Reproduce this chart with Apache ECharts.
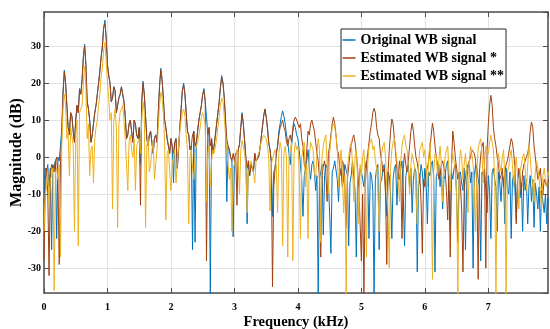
<!DOCTYPE html>
<html>
<head>
<meta charset="utf-8">
<title>WB signal spectrum</title>
<script src="https://cdn.jsdelivr.net/npm/echarts@6.0.0/dist/echarts.min.js"></script>
<style>
  html, body { margin: 0; padding: 0; background: #fff; }
  #chart { width: 550px; height: 329px; }
</style>
</head>
<body>
<div id="chart"></div>
<script>
// Magnitude spectra in dB, one value every 0.02 kHz starting at 0 kHz
// (one row per kHz)
const originalWB = [
  -12, -3, -4, -2, -8, -3, -25, -2, -3, -1, -22, 0, -1, 3, 8, 18, 23.5, 20, 14, 8, 6, 12, 11, 7, 4,
  10, 14, 12, 18.5, 17, 21, 27, 30.5, 25, 15, 13, 10, 4, 6, 9, 12, 14, 17, 20, 23.5, 27, 30, 35, 37, 32,
  25, 22, 20, 15, 16, 19, 18, 12, 14, 16, 17, 19, 19.5, 15, 11, 5, 6, 9, 10, 7, 4, 10, 9, 6, 5,
  8, -2, 15, 20.5, 17, 11, 5, 3, 6, 7, 4, 1, 5, 6, 4, 12, 19, 24, 21, 16, 10, 8, 5, 3, 1,
  5, 3, -7, 4, 5, -3, 2, 8, 13, 18, 20, 17, 12, 7, 6, 2, 3, -25, 7, -23, 4, 7, 10, 12, 14,
  17, 18.5, 15, 11, 6, 8, -37, 5, 1, 3, 6, 9, 12, 15, 19, 22, 20, 16, 10, -12, 3, 2, 0, -1, -21.5,
  -1, 1, 1, 2, 3.5, 8, 12, 9, 4.5, 0, -18, -1, -5, -2, -2, -4, 1, -1, -1, 0, 2, 5, 8, 11, 13,
  11, 8, 4, 2, -1, -16, -4, -3, 1, 3, 7, 9, 11, 12.5, 11, 9, 6, 4, 1, -2, 3, 7, 9, 8, 6,
  5, 2, -2, -6, -16, -5, -3, -1, 2, -3, -6, -2, -1, -4, -9, -5, -37, -6, -4, -2, -21, -5, -2, -3, -7,
  -15, -26, -4, -3, -1, -1, -6, -12, -3, -4, -8, -6, -2, -2, -5, -24, -7, -5, -1, -1, -9, -27, -6, -8, -3,
  -4, -6, -8, -3, -1, -5, -22, -4, -5, -9, -37, -6, -3, -2, -25, -7, -6, -3, -2, -8, -16, -4, -5, -10, -22,
  -6, -3, -2, -13, -5, -6, -3, -1, -10, -24, -5, -5, -2, -8, -3, -15, -6, -3, -4, -31, -8, -6, -2, -4, -9,
  -3, -7, -18, -4, -5, -2, -1, -6, -31, -5, -4, -2, -8, -3, -14, -6, -5, -2, -1, -9, -20, -4, -6, -3, -2,
  -11, -23, -5, -4, -7, -9, -3, -25, -6, -3, -2, -7, -4, -30, -5, -2, -3, -6, -8, -28, -4, -5, -3, -9, -15,
  -5, -9, -22, -4, -3, -6, -8, -20, -4, -7, -12, -5, -6, -18, -3, -8, -10, -4, -22, -6, -5, -9, -17, -6, -4,
  -11, -7, -20, -5, -9, -6, -18, -8, -5, -12, -6, -19, -7, -10, -14, -8, -20, -9, -12, -15, -10, -18, -11, -13, -20
];

const estimatedWB1 = [
  -28, -6, -3, -10, -32, -5, -2, -3, -4, -1, 0, -6, -29, -1, 6, 17, 23, 20, 14, 8, 6, 12, 11, 7, 4,
  10, 14, 12, 18, 17, 21, 27, 30, 25, 15, 13, 10, 4, 6, 9, 12, 14, 17, 20, 23, 27, 30, 35, 36, 32,
  25, 22, 20, 15, 16, 19, 18, 12, 14, 16, 17, 19, 19, 15, 11, 5, 6, 9, 10, 7, 4, 10, 9, 6, 5,
  8, -13, 15, 20, 17, 11, 5, 3, 6, 7, 4, 1, 5, 6, 4, 12, 19, 23.5, 21, 16, 10, 8, 5, 3, 1,
  5, 3, 1, 4, 5, -3, 2, 8, 13, 18, 19.5, 17, 12, 7, 6, 2, 3, 6, 7, 3, 4, 7, 10, 12, 14,
  17, 18, 15, -28, 6, 8, 3, 5, 1, 3, 6, 9, 12, 15, 19, 21.5, 20, 16, 10, 5, 3, 2, 0, -1, 1,
  -1, 1, -13, 2, 3.5, 8, 11.5, 9, 4.5, 0, -3, -1, -5, -2, -2, -4, 1, -1, -1, 0, 2, 5, 8, 11, 13,
  11, 8, 4, 2, -1, -35, -8, -3, 1, 3, 6, 8, 9, 10, 8, 7, 4, 3, 5, 6, 4, 8, 10, 10.8, 10,
  10, 8, 9, 5, 3, -2, -3, 2, 7, 6, 9, 10, 10, 7, 4, 1, -1, -6, -27, -5, -2.5, -1, -4, -12, 1,
  3, 6, 9, 10.8, 9, 6, 2, 1, -3, -5, -1, -2, -8, -19, -6, -2.6, 1, 3, 5, 6, 4, 1, -3, -8, -18,
  -28, -10, -37, -8, -2, 1, 4, 7, 9, 12, 13.2, 12, 8, 6, 5, 1, -1, -4, -3, -10, -29, -4, 2, 7, 10.3,
  9, 5, 1, -3, -6, -1, -5, -22, -3, 1, -2, -4, -1, 3, 7, 9.2, 7, 3, 0, -1.5, -4, -5, -12, -26, -6,
  -8, -4, -3, -1, 2, 6, 9.2, 7, 3, 0, -2, -6, -5, -2, -1, -3, -4, -9, -17, -5, -27, -2, 7, 4, 0,
  -3, -6, -4, -8, -14, -31, -9, -5, -3, -2, -1, 0, 2, 2.5, 1, -1, -8, -33, -4, 0.5, 3, 4, -3, -30, 2,
  9, 14, 16.7, 14, 8, 5, 3, 0, -2, -6, -5, -3, -8, -4, -2, -1, 1, 3, 5, 4, 1, -3, -18, -6, -3,
  -5, -10, -4, -2, -1, 0, 1, 3, 7, 9.5, 8, 3, 0, -3, -6, -5, -3, -8, -10, -6, -7, -8, -6, -7, -8
];

const estimatedWB2 = [
  -20, -10, -8, -4, -13, -6, -5, -3, -36, -4, -3, -6, -2, -27, 3, 13, 17, 14, 5, 7, -5, 8, 8, 3, -20,
  6, 10, -24, 12, 13, 14, 20, 24.5, 19, 5, 9, -5, 2, 3, -7, 5, 8, 10, 14, 17, 22, 24, 29, 31, 26,
  20, 16, 10, 12, -14, 10, 13, 8, -19, 9, 12, 13, 14, 10, 5, -2, -9, 4, 6, 2, 0, 5, -9, 3, 3,
  5, 1, 10, 15, 12, -19, 3, 5, -4, -2, 2, 4, -6, -6, 2, 8, 14, 17.5, 16, 12, 4, -17, 1, 2, -4,
  -9, -2, 0, 2, -7, -1, 3, 7, 10, 12, 13, 11, 6, 2, -18, 0, 2, -3, -6, 1, 3, 4, 6, 8, 11,
  12, 12.5, 9, -12, 1, 3, -8, -1, 2, 1, 3, 5, 8, 11, 14, 16, 15, 11, 6, 2, -2, -6, -3, -20, -3,
  -2, 0, 2, -1, -10, 2, 4.5, 3, 1, -2, -15, -4, -3, -1, -1, -4, -7, -1, 0, 1, 2, 4, 5, 6, 6.5,
  5, 3, 0, -14.5, -2, -2, 1, 2, -3, -15, 1, 4, 2, -24, 1, 3, 0, -27, 0, 2, 4, -28, 1, 4, 2,
  3, -3, -22, 0, 2, 4, -8, -2, -22, 0, 4, 3, 2, -4, -6, 1, 5, 2, -23, 0, 3, 5, 6, -2, -10,
  1, 5, 8, 9, 8, 6, 2, -8, -3, 2, -4, -15, -5, -37, -3, 0, 3, 4, -2, -12, 0, 2, -5, -18, -2,
  -5, 0, 2, -6, -27, -2, 3, 4, 5, 2, 3, -1, -3, -8, -20, -4, 1, 3, 4, 0, -8, -15, -30, -3, 2,
  4, 5, 2, -1, -6, -12, -1, 3, 5, 6, 3, 2, -4, -10, -2, 1, -1, -3, -9, -18, -3, 2, 3, 4, 0,
  2, -2, -8, 0, 4, -6, -33, -4, 1, 0, -5, -1, 3, -2, -12, -3, 0, 2, 3, -4, -9, -2, 1, -1, -4,
  -10, -37, -3, 2, 0, -6, -2, 1, -4, -15, -1, 3, 1, -2, -8, -20, -3, 2, 4, 5, 1, -7, -2, 3, 2,
  1, 4, 6, 4, 2, -5, -37, -3, 1, -2, -4, 0, 2, -6, -37, -4, -3, 0, 2, -2, -8, -3, 0, -5, -14,
  -4, -2, 0, 1, -3, -9, -2, 3, 0, -5, -8, -12, -4, -1, -3, -6, -9, -14, -5, -3, -6, -8, -4, -5, -7
];

const freqStep = 0.02; // kHz between samples
const freq = originalWB.map((_, i) => +(i * freqStep).toFixed(2));

const seriesNames = ['Original WB signal', 'Estimated WB signal *', 'Estimated WB signal **'];
const seriesData = [originalWB, estimatedWB1, estimatedWB2];
const seriesColors = ['#0072bd', '#a3410f', '#edb120'];

const serif = '"Liberation Serif", "DejaVu Serif", serif';
const axisColor = '#4d4d4d';
const gridColor = '#e3e3e3';

const xRange = { min: 0, max: 7.94 };
const yRange = { min: -36.7, max: 39.2 };

const chart = echarts.init(document.getElementById('chart'));

const labelFont = {
  fontFamily: serif,
  fontWeight: 'bold',
  fontSize: 10,
  color: '#000',
};

const nameFont = (size) => ({
  fontFamily: serif,
  fontWeight: 'bold',
  fontSize: size,
  color: '#000',
});

const boxLine = { show: true, onZero: false, lineStyle: { color: axisColor, width: 1.5 } };
const innerTick = { show: true, inside: true, length: 5, lineStyle: { color: axisColor, width: 1 } };

const option = {
  animation: false,
  // fixed plot box; v6 would otherwise shrink it to fit the axis names
  grid: { left: 44, right: 2, top: 12, bottom: 36, outerBoundsMode: 'none' },
  legend: {
    orient: 'vertical',
    left: 341,
    top: 29,
    data: seriesNames,
    icon: 'rect',
    itemWidth: 13,
    itemHeight: 1.5,
    itemGap: 4,
    padding: [4, 2, 5, 1.5],
    backgroundColor: '#fff',
    borderColor: '#262626',
    borderWidth: 1,
    textStyle: {
      fontFamily: serif,
      fontWeight: 'bold',
      fontSize: 14,
      lineHeight: 14,
      color: '#000',
    },
  },
  xAxis: [
    {
      type: 'value',
      ...xRange,
      splitNumber: 8,
      name: 'Frequency (kHz)',
      nameLocation: 'middle',
      nameGap: 22,
      nameMoveOverlap: false,
      nameTextStyle: nameFont(14.5),
      axisLine: boxLine,
      axisTick: innerTick,
      axisLabel: { ...labelFont, margin: 9, showMaxLabel: false },
      splitLine: { show: true, lineStyle: { color: gridColor, width: 1 } },
    },
    {
      // top edge of the box, ticks only
      type: 'value',
      position: 'top',
      ...xRange,
      splitNumber: 8,
      axisLine: boxLine,
      axisTick: innerTick,
      axisLabel: { show: false },
      splitLine: { show: false },
    },
  ],
  yAxis: [
    {
      type: 'value',
      ...yRange,
      splitNumber: 8,
      name: 'Magnitude (dB)',
      nameLocation: 'middle',
      nameGap: 19,
      nameRotate: 90,
      nameMoveOverlap: false,
      nameTextStyle: nameFont(16),
      axisLine: boxLine,
      axisTick: innerTick,
      axisLabel: { ...labelFont, margin: 3, showMinLabel: false, showMaxLabel: false },
      splitLine: { show: true, lineStyle: { color: gridColor, width: 1 } },
    },
    {
      // right edge of the box, ticks only
      type: 'value',
      position: 'right',
      ...yRange,
      splitNumber: 8,
      axisLine: boxLine,
      axisTick: innerTick,
      axisLabel: { show: false },
      splitLine: { show: false },
    },
  ],
  series: seriesNames.map((name, k) => ({
    name,
    type: 'line',
    data: seriesData[k].map((v, i) => [freq[i], v]),
    showSymbol: false,
    symbol: 'none',
    clip: true,
    silent: true,
    color: seriesColors[k],
    lineStyle: { width: 1, color: seriesColors[k] },
    z: 2 + k,
  })),
};

chart.setOption(option);
</script>
</body>
</html>
